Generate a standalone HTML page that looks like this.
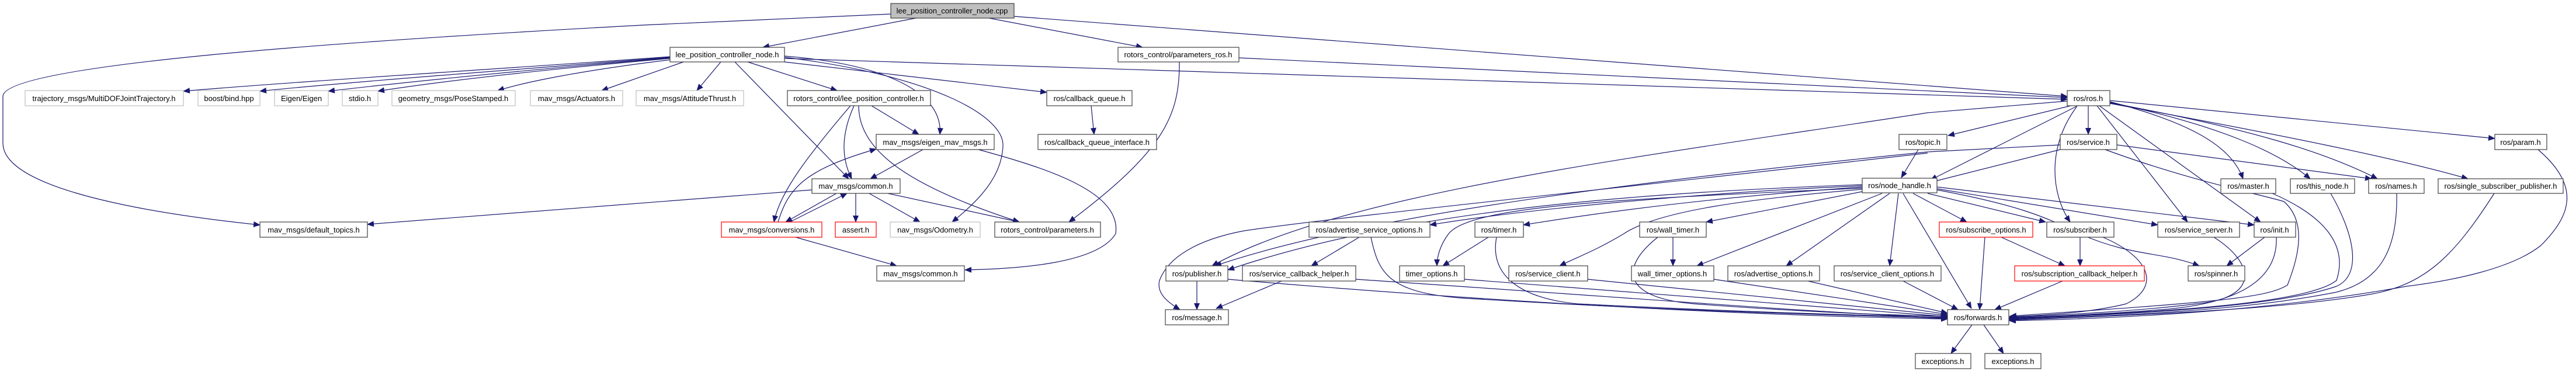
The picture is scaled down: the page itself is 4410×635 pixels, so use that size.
<!DOCTYPE html>
<html><head><meta charset="utf-8"><style>
html,body{margin:0;padding:0;background:#fff;}
svg{display:block;}
text{font-family:"Liberation Sans",sans-serif;font-size:13px;fill:#000;text-anchor:middle;}
.e{fill:none;stroke:#191970;stroke-width:1.2;marker-end:url(#a);}
.n{fill:#fff;stroke:#404040;stroke-width:1.2;}
.g{fill:#fff;stroke:#bfbfbf;stroke-width:1.2;}
.r{fill:#fff;stroke:#ff0000;stroke-width:1.2;}
</style></head><body>
<svg width="4410" height="635" viewBox="0 0 4410 635" xmlns="http://www.w3.org/2000/svg">
<defs><marker id="a" markerUnits="userSpaceOnUse" markerWidth="12" markerHeight="10" refX="11" refY="5" orient="auto"><path d="M0,0 L12,5 L0,10 z" fill="#191970"/></marker></defs>
<!-- edges -->
<path class="e" d="M1568,31 L1306,81"/>
<path class="e" d="M1693,31 L1956,81"/>
<path class="e" d="M1736,28 L3539,165"/>
<path class="e" d="M1525,24 L1100,43 C600,70 5,110 5,165 L5,245 C5,330 300,370 445,385"/>
<path class="e" d="M1147,97 C900,115 500,140 314,156"/>
<path class="e" d="M1147,98 C900,118 600,140 445,156"/>
<path class="e" d="M1147,99 C900,120 700,140 562,156"/>
<path class="e" d="M1147,100 C900,122 750,140 647,156"/>
<path class="e" d="M1150,102 C1000,120 900,140 852,155"/>
<path class="e" d="M1170,106 L1030,155"/>
<path class="e" d="M1234,106 L1193,155"/>
<path class="e" d="M1280,106 L1433,155"/>
<path class="e" d="M1258,106 L1453,306"/>
<path class="e" d="M1343,96 C1520,110 1615,160 1609,230"/>
<path class="e" d="M1343,98 C1600,130 1720,200 1717,250 C1715,300 1680,340 1630,380"/>
<path class="e" d="M1343,106 L1792,158"/>
<path class="e" d="M1343,100 L3539,170"/>
<path class="e" d="M2121,99 L3539,167"/>
<path class="e" d="M2019,106 C2020,200 1990,260 1830,380"/>
<path class="e" d="M1492,181 L1573,230"/>
<path class="e" d="M1462,181 C1440,230 1440,270 1458,306"/>
<path class="e" d="M1456,181 C1380,270 1335,330 1325,380"/>
<path class="e" d="M1470,181 C1470,260 1560,320 1745,380"/>
<path class="e" d="M1580,256 L1490,306"/>
<path class="e" d="M1675,256 C1800,290 1920,330 1910,400 C1880,450 1750,460 1652,462"/>
<path class="e" d="M1332,380 C1350,320 1380,290 1500,255"/>
<path class="e" d="M1432,331 L1345,380"/>
<path class="e" d="M1352,380 L1450,331"/>
<path class="e" d="M1465,331 L1465,380"/>
<path class="e" d="M1488,331 L1575,380"/>
<path class="e" d="M1520,331 L1745,380"/>
<path class="e" d="M1390,325 L629,384"/>
<path class="e" d="M1362,406 L1535,455"/>
<path class="e" d="M1868,181 L1873,230"/>
<!-- ros.h -->
<path class="e" d="M3545,181 L3335,232"/>
<path class="e" d="M3575,181 L3575,230"/>
<path class="e" d="M3557,181 L3305,308"/>
<path class="e" d="M3555,183 C3505,250 3510,330 3544,380"/>
<path class="e" d="M3590,181 L3745,380"/>
<path class="e" d="M3594,181 L3870,380"/>
<path class="e" d="M3612,174 C3750,210 3820,250 3840,306"/>
<path class="e" d="M3612,175 C3800,215 3900,260 3955,306"/>
<path class="e" d="M3612,176 C3850,220 3980,260 4070,306"/>
<path class="e" d="M3612,177 C3900,230 4100,270 4225,306"/>
<path class="e" d="M3612,172 L4271,237"/>
<path class="e" d="M3539,173 L3300,193 C2800,270 2300,330 2075,455"/>
<!-- service.h -->
<path class="e" d="M3527,256 L3305,312"/>
<path class="e" d="M3624,248 L4060,306"/>
<path class="e" d="M3604,256 C3750,310 3880,335 3910,345 C3950,380 3935,440 3916,488 C3880,510 3796,517 3441,541"/>
<path class="e" d="M3527,248 L3300,260 C2700,320 2300,380 2080,455"/>
<path class="e" d="M3300,262 C2700,330 2300,370 2130,395 C2050,410 2000,440 1985,480 C1980,500 1995,515 2020,530"/>
<path class="e" d="M3284,256 L3255,304"/>
<!-- node_handle -->
<path class="e" d="M3188,318 C2900,330 2600,360 2448,385"/>
<path class="e" d="M3188,320 C2900,340 2700,370 2608,385"/>
<path class="e" d="M3188,328 L2921,380"/>
<path class="e" d="M3188,322 C2800,340 2520,350 2480,400 C2465,420 2460,440 2460,455"/>
<path class="e" d="M3188,324 C3000,340 2840,360 2780,400 C2730,430 2700,440 2670,455"/>
<path class="e" d="M3222,331 L2905,455"/>
<path class="e" d="M3235,331 L3058,455"/>
<path class="e" d="M3250,331 L3235,455"/>
<path class="e" d="M3258,331 L3375,528"/>
<path class="e" d="M3275,331 L3367,380"/>
<path class="e" d="M3300,331 L3502,380"/>
<path class="e" d="M3316,323 L3694,385"/>
<path class="e" d="M3316,320 L3859,385"/>
<path class="e" d="M3316,325 C3450,350 3500,370 3560,400 C3650,440 3700,430 3765,455"/>
<path class="e" d="M3188,316 C2800,330 2400,360 2102,462"/>
<!-- to forwards -->
<path class="e" d="M2321,478 C2800,510 3100,535 3334,544"/>
<path class="e" d="M2347,406 C2360,470 2380,500 2500,510 C2900,535 3200,540 3334,545"/>
<path class="e" d="M2507,478 L3334,542"/>
<path class="e" d="M2562,406 C2550,470 2600,510 2700,520 C3000,535 3200,540 3334,543"/>
<path class="e" d="M2718,478 L3334,540"/>
<path class="e" d="M2838,406 C2770,460 2780,510 2900,520 C3100,535 3250,540 3334,541"/>
<path class="e" d="M2934,478 L3334,538"/>
<path class="e" d="M3095,481 L3334,536"/>
<path class="e" d="M3258,481 L3352,530"/>
<path class="e" d="M2102,478 C2600,520 3000,540 3334,546"/>
<path class="e" d="M3398,406 L3389,530"/>
<path class="e" d="M3426,406 L3535,455"/>
<path class="e" d="M3561,406 L3561,455"/>
<path class="e" d="M3531,481 L3415,530"/>
<path class="e" d="M3600,406 C3680,440 3700,490 3640,520 C3580,535 3500,540 3440,542"/>
<path class="e" d="M3790,406 C3860,450 3870,510 3760,520 C3640,535 3500,540 3440,543"/>
<path class="e" d="M3897,406 C3900,480 3830,520 3700,530 C3600,538 3500,542 3440,544"/>
<path class="e" d="M3890,331 C3980,370 4020,420 4000,480 C3950,520 3700,535 3440,545"/>
<path class="e" d="M3990,331 C4030,400 4045,470 4000,490 C3900,525 3650,538 3440,546"/>
<path class="e" d="M4103,331 C4105,420 4080,480 4000,500 C3850,530 3650,540 3440,547"/>
<path class="e" d="M4270,331 C4200,440 4150,490 4050,505 C3900,530 3650,540 3440,548"/>
<path class="e" d="M4345,256 C4420,320 4400,370 4350,420 C4300,460 4200,480 4120,490 C3900,530 3650,545 3440,549"/>
<path class="e" d="M2327,406 L2245,455"/>
<path class="e" d="M2194,481 L2082,528"/>
<path class="e" d="M2049,481 L2049,530"/>
<path class="e" d="M2548,406 L2470,455"/>
<path class="e" d="M2864,406 L2864,455"/>
<path class="e" d="M3877,406 L3812,455"/>
<path class="e" d="M3376,556 L3340,605"/>
<path class="e" d="M3396,556 L3430,605"/>
<!-- nodes -->
<g>
<rect x="1525" y="6" width="211" height="25" fill="#bfbfbf" stroke="#404040" stroke-width="1.2"/><text x="1630" y="23">lee_position_controller_node.cpp</text>
<rect class="n" x="1147" y="81" width="196" height="25"/><text x="1245" y="98">lee_position_controller_node.h</text>
<rect class="n" x="1914" y="81" width="207" height="25"/><text x="2017" y="98">rotors_control/parameters_ros.h</text>
<rect class="g" x="43" y="155" width="271" height="26"/><text x="178" y="173">trajectory_msgs/MultiDOFJointTrajectory.h</text>
<rect class="g" x="339" y="155" width="106" height="26"/><text x="392" y="173">boost/bind.hpp</text>
<rect class="g" x="470" y="155" width="92" height="26"/><text x="516" y="173">Eigen/Eigen</text>
<rect class="g" x="586" y="155" width="61" height="26"/><text x="616" y="173">stdio.h</text>
<rect class="g" x="671" y="155" width="211" height="26"/><text x="776" y="173">geometry_msgs/PoseStamped.h</text>
<rect class="g" x="908" y="155" width="158" height="26"/><text x="987" y="173">mav_msgs/Actuators.h</text>
<rect class="g" x="1089" y="155" width="184" height="26"/><text x="1181" y="173">mav_msgs/AttitudeThrust.h</text>
<rect class="n" x="1348" y="155" width="245" height="26"/><text x="1470" y="173">rotors_control/lee_position_controller.h</text>
<rect class="n" x="1792" y="155" width="146" height="26"/><text x="1865" y="173">ros/callback_queue.h</text>
<rect class="n" x="1500" y="230" width="202" height="26"/><text x="1601" y="248">mav_msgs/eigen_mav_msgs.h</text>
<rect class="n" x="1777" y="230" width="203" height="26"/><text x="1878" y="248">ros/callback_queue_interface.h</text>
<rect class="n" x="1390" y="306" width="151" height="25"/><text x="1465" y="323">mav_msgs/common.h</text>
<rect class="r" x="1235" y="380" width="172" height="26"/><text x="1321" y="398">mav_msgs/conversions.h</text>
<rect class="r" x="1430" y="380" width="70" height="26"/><text x="1465" y="398">assert.h</text>
<rect class="g" x="1524" y="380" width="154" height="26"/><text x="1601" y="398">nav_msgs/Odometry.h</text>
<rect class="n" x="1703" y="380" width="181" height="26"/><text x="1793" y="398">rotors_control/parameters.h</text>
<rect class="n" x="445" y="380" width="184" height="26"/><text x="537" y="398">mav_msgs/default_topics.h</text>
<rect class="n" x="1501" y="455" width="150" height="26"/><text x="1576" y="473">mav_msgs/common.h</text>
<rect class="n" x="1996" y="455" width="106" height="26"/><text x="2049" y="473">ros/publisher.h</text>
<rect class="n" x="1995" y="530" width="108" height="26"/><text x="2049" y="548">ros/message.h</text>
<rect class="n" x="2127" y="455" width="194" height="26"/><text x="2224" y="473">ros/service_callback_helper.h</text>
<rect class="n" x="2241" y="380" width="207" height="26"/><text x="2344" y="398">ros/advertise_service_options.h</text>
<rect class="n" x="2525" y="380" width="83" height="26"/><text x="2566" y="398">ros/timer.h</text>
<rect class="n" x="2807" y="380" width="114" height="26"/><text x="2864" y="398">ros/wall_timer.h</text>
<rect class="n" x="2396" y="455" width="111" height="26"/><text x="2451" y="473">timer_options.h</text>
<rect class="n" x="2583" y="455" width="135" height="26"/><text x="2650" y="473">ros/service_client.h</text>
<rect class="n" x="2793" y="455" width="141" height="26"/><text x="2863" y="473">wall_timer_options.h</text>
<rect class="n" x="2958" y="455" width="157" height="26"/><text x="3036" y="473">ros/advertise_options.h</text>
<rect class="n" x="3140" y="455" width="183" height="26"/><text x="3231" y="473">ros/service_client_options.h</text>
<rect class="n" x="3251" y="230" width="82" height="26"/><text x="3292" y="248">ros/topic.h</text>
<rect class="n" x="3188" y="305" width="128" height="25"/><text x="3252" y="322">ros/node_handle.h</text>
<rect class="n" x="3539" y="155" width="73" height="26"/><text x="3575" y="173">ros/ros.h</text>
<rect class="n" x="3527" y="230" width="97" height="26"/><text x="3575" y="248">ros/service.h</text>
<rect class="n" x="4271" y="230" width="89" height="26"/><text x="4315" y="248">ros/param.h</text>
<rect class="n" x="3802" y="306" width="94" height="25"/><text x="3849" y="323">ros/master.h</text>
<rect class="n" x="3921" y="306" width="110" height="25"/><text x="3976" y="323">ros/this_node.h</text>
<rect class="n" x="4055" y="306" width="95" height="25"/><text x="4102" y="323">ros/names.h</text>
<rect class="n" x="4174" y="306" width="214" height="25"/><text x="4281" y="323">ros/single_subscriber_publisher.h</text>
<rect class="r" x="3320" y="380" width="160" height="26"/><text x="3400" y="398">ros/subscribe_options.h</text>
<rect class="n" x="3504" y="380" width="115" height="26"/><text x="3561" y="398">ros/subscriber.h</text>
<rect class="n" x="3694" y="380" width="140" height="26"/><text x="3764" y="398">ros/service_server.h</text>
<rect class="n" x="3859" y="380" width="71" height="26"/><text x="3894" y="398">ros/init.h</text>
<rect class="r" x="3449" y="455" width="222" height="26"/><text x="3560" y="473">ros/subscription_callback_helper.h</text>
<rect class="n" x="3746" y="455" width="97" height="26"/><text x="3794" y="473">ros/spinner.h</text>
<rect class="n" x="3334" y="530" width="105" height="26"/><text x="3386" y="548">ros/forwards.h</text>
<rect class="n" x="3279" y="605" width="95" height="26"/><text x="3326" y="623">exceptions.h</text>
<rect class="n" x="3398" y="605" width="96" height="26"/><text x="3446" y="623">exceptions.h</text>
</g>
</svg>
</body></html>
